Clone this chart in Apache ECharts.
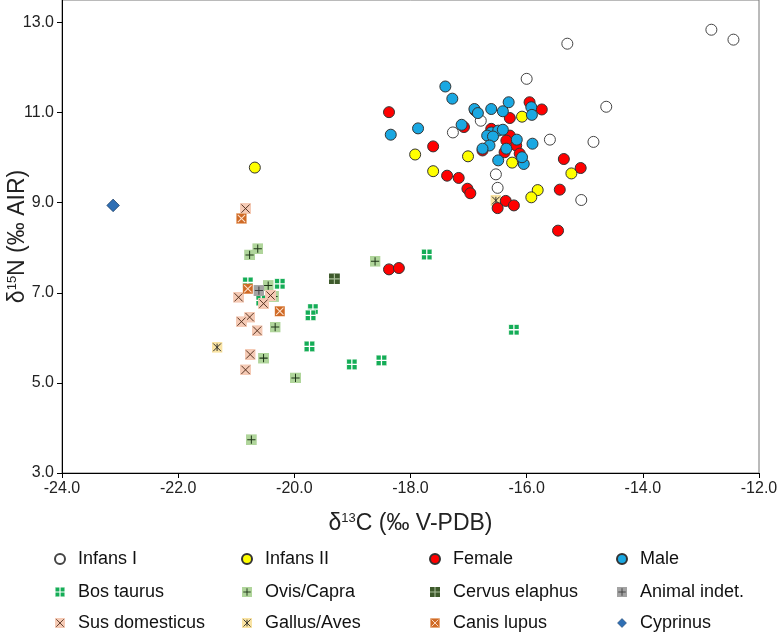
<!DOCTYPE html>
<html>
<head>
<meta charset="utf-8">
<script src="https://cdn.jsdelivr.net/npm/echarts@6/dist/echarts.min.js"></script>
<style>html,body{margin:0;padding:0;background:#fff}#c{width:782px;height:634px}</style>
</head>
<body>
<div id="c"></div>
<script>
// ---- data (δ13C, δ15N) ----
const xTicks = [-24, -22, -20, -18, -16, -14, -12];
const yTicks = [3, 5, 7, 9, 11, 13];

const infansIX = [-12.82,-12.44,-15.30,-14.63,-16.00,-16.79,-17.27,-15.60,-14.85,-16.53,-16.50,-15.06];
const infansIY = [12.84,12.62,12.53,11.13,11.75,10.82,10.56,10.40,10.35,9.63,9.33,9.06];

const infansIIX = [-20.68,-16.08,-17.92,-17.01,-16.25,-17.61,-15.23,-15.81,-15.92];
const infansIIY = [9.78,10.91,10.07,10.03,9.89,9.70,9.65,9.28,9.12];

const femaleX = [-18.37,-15.95,-15.74,-16.29,-16.89,-17.08,-17.61,-16.61,-16.29,-16.35,-16.18,-16.38,-16.12,-16.76,-15.36,-15.07,-17.37,-17.17,-17.02,-16.97,-15.43,-16.36,-16.22,-16.50,-15.46,-18.37,-18.20];
const femaleY = [11.01,11.23,11.07,10.88,11.05,10.68,10.25,10.64,10.49,10.38,10.27,10.12,10.09,10.16,9.97,9.77,9.60,9.55,9.31,9.21,9.29,9.04,8.94,8.88,8.38,7.52,7.55];

const maleX = [-17.40,-17.28,-17.87,-18.34,-16.90,-16.84,-16.61,-16.41,-16.31,-15.92,-15.91,-17.12,-15.90,-16.49,-16.05,-16.08,-16.61,-16.68,-16.49,-16.41,-16.58,-16.64,-16.76,-16.17,-16.35];
const maleY = [11.58,11.31,10.65,10.51,11.08,10.99,11.08,11.03,11.23,11.12,10.95,10.73,10.31,9.94,9.86,10.01,10.56,10.49,10.60,10.62,10.47,10.27,10.20,10.40,10.20];

const bosX = [-20.25,-20.80,-20.57,-19.68,-19.72,-19.74,-19.01,-18.50,-17.72,-16.22];
const bosY = [7.20,7.23,6.83,6.64,6.50,5.81,5.41,5.50,7.85,6.18];

const ovisX = [-20.63,-20.77,-20.45,-20.36,-20.33,-20.53,-19.98,-20.74,-18.61];
const ovisY = [7.98,7.84,7.16,6.92,6.24,5.55,5.11,3.74,7.70];

const cervusX = [-19.31];
const cervusY = [7.31];

const indetX = [-20.61];
const indetY = [7.05];

const susX = [-20.84,-20.96,-20.41,-20.53,-20.77,-20.91,-20.64,-20.76,-20.84];
const susY = [8.87,6.90,6.94,6.76,6.46,6.36,6.16,5.63,5.29];

const gallusX = [-21.33,-16.53];
const gallusY = [5.79,9.05];

const canisX = [-20.91,-20.80,-20.25];
const canisY = [8.65,7.09,6.59];

const cyprinusX = [-23.12];
const cyprinusY = [8.94];

// ---- helpers ----
const FONT = "'Liberation Sans', Arial, Helvetica, sans-serif";
function pts(xs, ys) { return xs.map((x, i) => [x, ys[i]]); }
function svgIcon(body) {
  const s = "<svg xmlns='http://www.w3.org/2000/svg' width='48' height='48' viewBox='0 0 12 12'>" + body + "</svg>";
  return 'image://data:image/svg+xml;charset=utf-8,' + encodeURIComponent(s);
}
const ICON_BOS = svgIcon("<rect width='12' height='12' fill='#c4e8d0'/><rect x='0.8' y='0.8' width='10.4' height='10.4' fill='#14ad57'/><path d='M6 0V12M0 6H12' stroke='#fff' stroke-width='1.4'/>");
const ICON_OVIS = svgIcon("<rect width='12' height='12' fill='#b0d59b'/><path d='M6 1.5V10.5M1.5 6H10.5' stroke='#1e3518' stroke-width='1.1'/>");
const ICON_CERVUS = svgIcon("<rect width='12' height='12' fill='#3e5a2c'/><path d='M6 0V12M0 6H12' stroke='#a9bf9a' stroke-width='1.3'/>");
const ICON_INDET = svgIcon("<rect width='12' height='12' fill='#a3a3a3'/><path d='M6 1.5V10.5M1.5 6H10.5' stroke='#404040' stroke-width='1.1'/>");
const ICON_SUS = svgIcon("<rect width='12' height='12' fill='#f5cab5'/><path d='M1.5 1.5L10.5 10.5M10.5 1.5L1.5 10.5' stroke='#4b2a18' stroke-width='1'/>");
const ICON_GALLUS = svgIcon("<rect width='12' height='12' fill='#f9e3a3'/><path d='M1.8 1.8L10.2 10.2M10.2 1.8L1.8 10.2M6 2V10' stroke='#222' stroke-width='1'/>");
const ICON_CANIS = svgIcon("<rect width='12' height='12' fill='#f3c9a8'/><rect x='0.8' y='0.8' width='10.4' height='10.4' fill='#cf6a26'/><path d='M2 2L10 10M10 2L2 10' stroke='#fde3cf' stroke-width='1.1'/>");
const ICON_CYPRINUS = svgIcon("<path d='M6 0.6L11.4 6L6 11.4L0.6 6Z' fill='#2f6fb4' stroke='#1b3a5c' stroke-width='0.6'/>");

function circleSeries(name, xs, ys, fill, border) {
  return {
    name: name, type: 'scatter', data: pts(xs, ys), symbol: 'circle', symbolSize: 11,
    itemStyle: { color: fill, borderColor: border, borderWidth: 1, opacity: 1 },
    emphasis: { disabled: true }
  };
}
function iconSeries(name, xs, ys, icon, size) {
  return {
    name: name, type: 'scatter', data: pts(xs, ys), symbol: icon, symbolSize: size,
    itemStyle: { opacity: 1 }, emphasis: { disabled: true }
  };
}

const series = [
  iconSeries('Bos taurus', bosX, bosY, ICON_BOS, 11),
  iconSeries('Ovis/Capra', ovisX, ovisY, ICON_OVIS, 11),
  iconSeries('Cervus elaphus', cervusX, cervusY, ICON_CERVUS, 11),
  iconSeries('Animal indet.', indetX, indetY, ICON_INDET, 11),
  iconSeries('Sus domesticus', susX, susY, ICON_SUS, 11),
  iconSeries('Gallus/Aves', gallusX, gallusY, ICON_GALLUS, 11),
  iconSeries('Canis lupus', canisX, canisY, ICON_CANIS, 11),
  iconSeries('Cyprinus', cyprinusX, cyprinusY, ICON_CYPRINUS, 14),
  circleSeries('Infans I', infansIX, infansIY, '#ffffff', '#444444'),
  circleSeries('Infans II', infansIIX, infansIIY, '#ffff00', '#333333'),
  circleSeries('Female', femaleX, femaleY, '#ff0000', '#333333'),
  circleSeries('Male', maleX, maleY, '#1aa8e2', '#333333')
];

// legend layout: 4 columns x 3 rows
const legendRows = [
  ['Infans I', 'Infans II', 'Female', 'Male'],
  ['Bos taurus', 'Ovis/Capra', 'Cervus elaphus', 'Animal indet.'],
  ['Sus domesticus', 'Gallus/Aves', 'Canis lupus', 'Cyprinus']
];
const colLeft = [47, 234, 422, 609];
const rowTop = [549, 582, 613];
const rowShift = [7, 0, 0];
const legendText = { fontSize: 18, fontFamily: FONT, color: '#111', lineHeight: 20 };
const legends = [];
legendRows.forEach((row, r) => row.forEach((nm, c) => {
  legends.push({
    orient: 'horizontal', left: colLeft[c] + rowShift[r], top: rowTop[r], itemWidth: 26, itemHeight: 10,
    padding: 0, selectedMode: false, textStyle: legendText, data: [nm]
  });
}));

const axisLabelStyle = { fontSize: 16, fontFamily: FONT, color: '#222' };
const nameRich = {
  n: { fontSize: 23, fontFamily: FONT, color: '#222', lineHeight: 28 },
  s: { fontSize: 13, fontFamily: FONT, color: '#222', lineHeight: 13, verticalAlign: 'top', padding: [2, 0, 0, 0] }
};

const option = {
  animation: false,
  backgroundColor: '#fff',
  grid: { left: 62, right: 23, top: 0, bottom: 161, show: true, borderColor: '#777', borderWidth: 1,
          containLabel: false, outerBoundsMode: 'none' },
  xAxis: {
    type: 'value', min: -24, max: -12, interval: 2,
    name: '{n|δ}{s|13}{n|C (‰ V-PDB)}', nameLocation: 'middle', nameGap: 37, nameMoveOverlap: false,
    nameTextStyle: { rich: nameRich },
    axisLine: { show: true, onZero: false, lineStyle: { color: '#000', width: 1 } },
    axisTick: { show: true, length: 5, inside: false, lineStyle: { color: '#000' }, customValues: xTicks },
    axisLabel: Object.assign({ margin: 8, formatter: v => v.toFixed(1), customValues: xTicks }, axisLabelStyle),
    splitLine: { show: false }
  },
  yAxis: {
    type: 'value', min: 3, max: 13.5, interval: 2,
    name: '{n|δ}{s|15}{n|N (‰ AIR)}', nameLocation: 'middle', nameGap: 30, nameMoveOverlap: false,
    nameTextStyle: { rich: nameRich },
    axisLine: { show: true, onZero: false, lineStyle: { color: '#000', width: 1 } },
    axisTick: { show: true, length: 5, inside: false, lineStyle: { color: '#000' }, customValues: yTicks },
    axisLabel: Object.assign({ margin: 8, formatter: v => v.toFixed(1), customValues: yTicks }, axisLabelStyle),
    splitLine: { show: false }
  },
  legend: legends,
  series: series
};

const chart = echarts.init(document.getElementById('c'), null, { renderer: 'canvas' });
chart.setOption(option);
</script>
</body>
</html>
